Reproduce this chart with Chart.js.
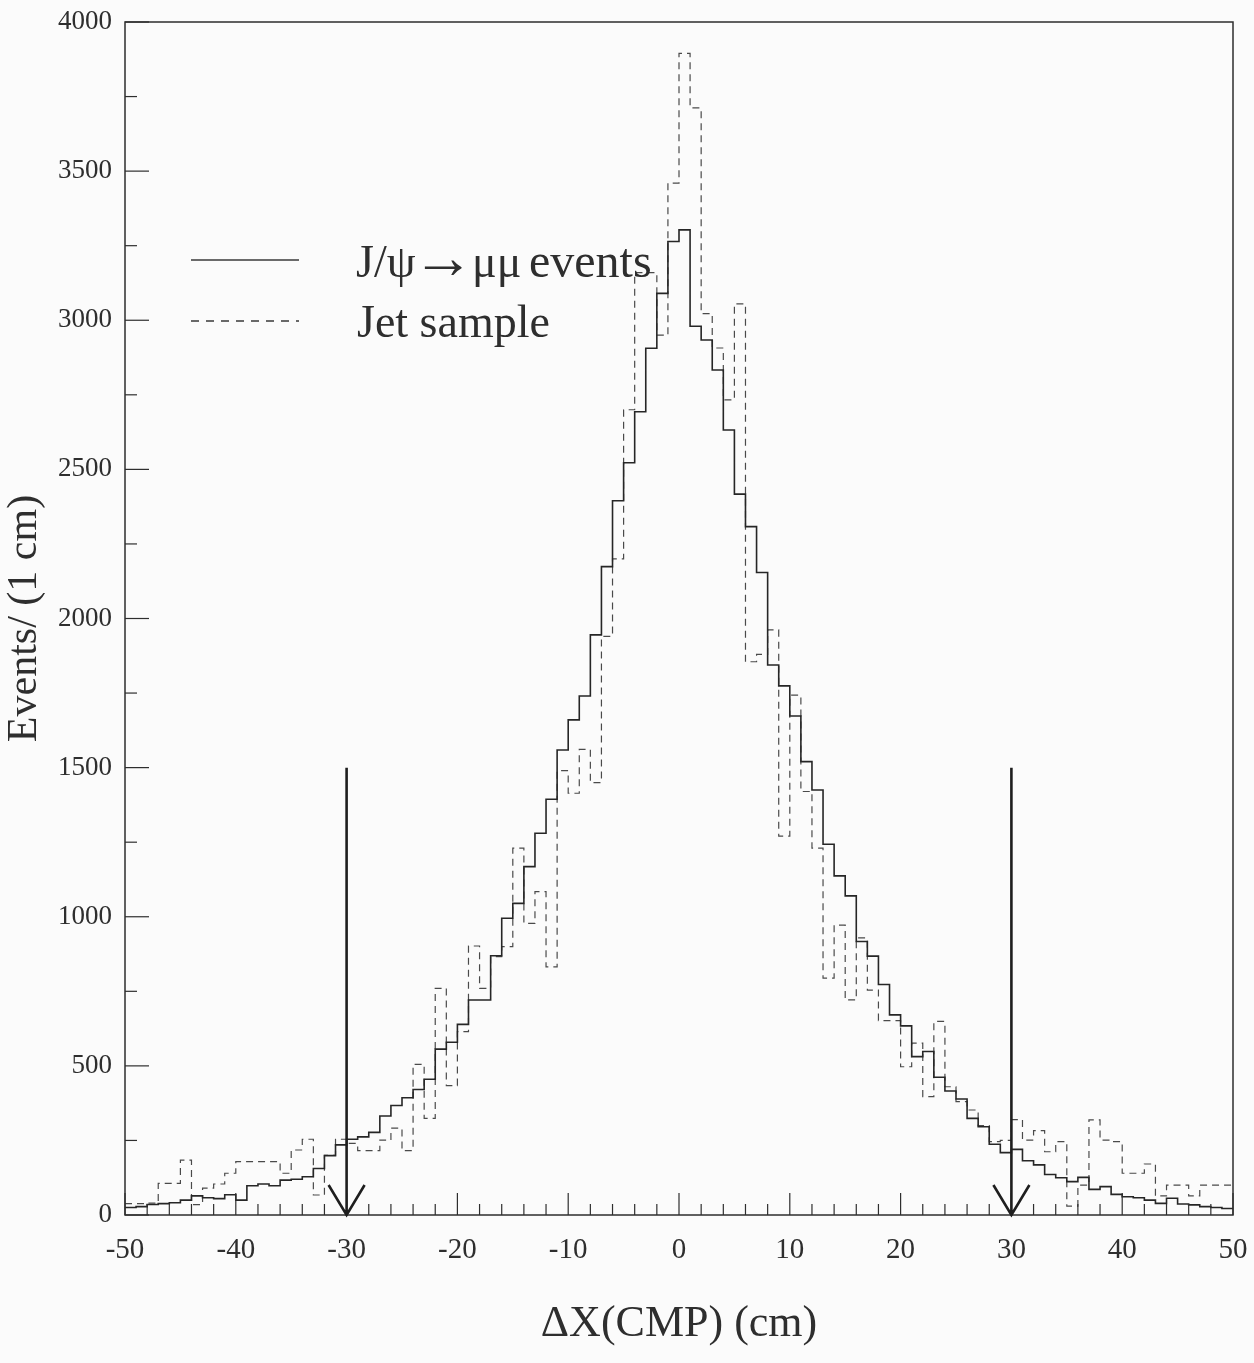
<!DOCTYPE html>
<html>
<head>
<meta charset="utf-8">
<script src="https://cdn.jsdelivr.net/npm/chart.js@4.4.0/dist/chart.umd.min.js"></script>
<style>
  html, body { margin: 0; padding: 0; background: #fbfbfb; }
</style>
</head>
<body>
<canvas id="chart" width="1254" height="1363"></canvas>
<script>
// 1 cm bins from -50 to 50 (lower edges)
const binLow = Array.from({ length: 100 }, (_, i) => -50 + i);

// J/psi -> mu mu events (solid)
const jpsiCounts = [
  25, 28, 35, 38, 41, 50, 64, 58, 55, 68,
  50, 98, 104, 98, 117, 120, 128, 156, 199, 235,
  254, 262, 277, 332, 367, 393, 421, 455, 556, 579,
  639, 721, 721, 869, 995, 1045, 1168, 1280, 1394, 1559,
  1660, 1740, 1945, 2174, 2395, 2522, 2693, 2906, 3090, 3264,
  3303, 2980, 2934, 2833, 2632, 2417, 2308, 2154, 1844, 1774,
  1673, 1520, 1425, 1243, 1137, 1070, 917, 868, 773, 671,
  634, 531, 548, 462, 416, 389, 324, 296, 237, 209,
  220, 182, 168, 136, 125, 112, 126, 86, 95, 69,
  61, 58, 50, 39, 56, 37, 34, 28, 25, 22,
];

// Jet sample (dashed)
const jetCounts = [
  38, 38, 40, 106, 106, 184, 35, 90, 104, 140,
  179, 179, 179, 179, 140, 218, 254, 67, 200, 254,
  240, 216, 216, 251, 291, 216, 505, 324, 760, 434,
  615, 902, 760, 866, 900, 1230, 978, 1084, 832, 1490,
  1414, 1561, 1450, 1940, 2200, 2700, 3160, 3160, 2950, 3460,
  3895, 3712, 3022, 2907, 2733, 3055, 1855, 1880, 1962, 1270,
  1743, 1420, 1230, 794, 972, 721, 929, 754, 652, 652,
  497, 576, 397, 649, 430, 380, 352, 300, 246, 250,
  320, 251, 283, 212, 246, 30, 100, 319, 251, 246,
  140, 140, 171, 64, 100, 100, 64, 100, 100, 100,
];

const xTickLabels = [-50, -40, -30, -20, -10, 0, 10, 20, 30, 40, 50];
const yTickLabels = [0, 500, 1000, 1500, 2000, 2500, 3000, 3500, 4000];

// cut positions marked with arrows
const cutPositions = [-30, 30];
const cutArrowTop = 1500;

const SERIF = "'Liberation Serif', 'DejaVu Serif', serif";
const INK = '#2e2e2e';

function toSteps(counts) {
  const pts = binLow.map((x, i) => ({ x: x, y: counts[i] }));
  pts.push({ x: binLow[binLow.length - 1] + 1, y: counts[counts.length - 1] });
  return pts;
}

// frame, inward ticks, cut arrows and legend
const decorations = {
  id: 'decorations',
  afterDatasetsDraw(chart) {
    const { ctx, chartArea: a, scales: { x, y } } = chart;
    ctx.save();
    ctx.strokeStyle = INK;
    ctx.lineWidth = 1.5;
    ctx.strokeRect(a.left, a.top, a.right - a.left, a.bottom - a.top);

    ctx.lineWidth = 1.2;
    y.ticks.forEach((t) => {
      const py = y.getPixelForValue(t.value);
      const len = yTickLabels.includes(t.value) ? 24 : 12;
      ctx.beginPath();
      ctx.moveTo(a.left, py);
      ctx.lineTo(a.left + len, py);
      ctx.stroke();
    });
    x.ticks.forEach((t) => {
      const px = x.getPixelForValue(t.value);
      const len = xTickLabels.includes(t.value) ? 22 : 11;
      ctx.beginPath();
      ctx.moveTo(px, a.bottom);
      ctx.lineTo(px, a.bottom - len);
      ctx.stroke();
    });

    // arrows
    ctx.lineWidth = 2.6;
    ctx.strokeStyle = '#1e1e1e';
    cutPositions.forEach((c) => {
      const px = x.getPixelForValue(c);
      const top = y.getPixelForValue(cutArrowTop);
      const tip = y.getPixelForValue(0);
      ctx.beginPath();
      ctx.moveTo(px, top);
      ctx.lineTo(px, tip);
      ctx.moveTo(px - 18, tip - 30);
      ctx.lineTo(px, tip);
      ctx.lineTo(px + 18, tip - 30);
      ctx.stroke();
    });

    // legend
    const lx0 = 191, lx1 = 299;
    const rows = [260, 321];
    ctx.lineWidth = 1.3;
    ctx.strokeStyle = '#3a3a3a';
    rows.forEach((ry, i) => {
      ctx.setLineDash(i === 0 ? [] : [8, 7]);
      ctx.beginPath();
      ctx.moveTo(lx0, ry);
      ctx.lineTo(lx1, ry);
      ctx.stroke();
    });
    ctx.setLineDash([]);
    ctx.fillStyle = INK;
    ctx.textBaseline = 'alphabetic';
    ctx.textAlign = 'left';
    ctx.font = '46px ' + SERIF;
    ctx.fillText('J/\u03C8', 356, 277);
    ctx.fillText('\u03BC\u03BC', 472, 277);
    ctx.fillText('Jet sample', 357, 337);
    ctx.font = '48px ' + SERIF;
    ctx.fillText('events', 529, 277);
    ctx.font = "62px 'Liberation Serif', serif";
    ctx.fillText('\u2192', 412, 278);
    ctx.restore();
  },
};

new Chart(document.getElementById('chart'), {
  type: 'line',
  data: {
    datasets: [
      {
        label: 'J/\u03C8 \u2192 \u03BC\u03BC events',
        data: toSteps(jpsiCounts),
        stepped: 'before',
        borderColor: '#262626',
        borderWidth: 1.6,
        pointRadius: 0,
        fill: false,
      },
      {
        label: 'Jet sample',
        data: toSteps(jetCounts),
        stepped: 'before',
        borderColor: '#4a4a4a',
        borderWidth: 1.2,
        borderDash: [7, 5],
        pointRadius: 0,
        fill: false,
      },
    ],
  },
  options: {
    responsive: false,
    animation: false,
    layout: { padding: { top: 22, right: 21, left: 0, bottom: 0 } },
    plugins: {
      legend: { display: false },
      tooltip: { enabled: false },
    },
    scales: {
      x: {
        type: 'linear',
        min: -50,
        max: 50,
        grid: { display: false, drawTicks: false },
        border: { display: false },
        ticks: {
          stepSize: 2,
          autoSkip: false,
          maxRotation: 0,
          padding: 18,
          color: INK,
          font: { family: SERIF, size: 29 },
          callback: (v) => (xTickLabels.includes(v) ? String(v) : ''),
        },
        title: {
          display: true,
          text: '\u0394X(CMP) (cm)',
          color: INK,
          font: { family: SERIF, size: 44 },
          padding: { top: 0, bottom: 12 },
        },
        afterFit: (s) => {
          s.height = 148;
          s.paddingLeft = 0;
          s.paddingRight = 0;
        },
      },
      y: {
        type: 'linear',
        min: 0,
        max: 4000,
        grid: { display: false, drawTicks: false },
        border: { display: false },
        ticks: {
          stepSize: 250,
          autoSkip: false,
          padding: 13,
          color: INK,
          font: { family: SERIF, size: 27 },
          callback: (v) => (yTickLabels.includes(v) ? String(v) : ''),
        },
        title: {
          display: true,
          text: 'Events/ (1 cm)',
          color: INK,
          font: { family: SERIF, size: 42 },
          padding: { top: 0, bottom: 0 },
        },
        afterFit: (s) => {
          s.width = 125;
          s.paddingTop = 0;
          s.paddingBottom = 0;
        },
      },
    },
  },
  plugins: [decorations],
});
</script>
</body>
</html>
